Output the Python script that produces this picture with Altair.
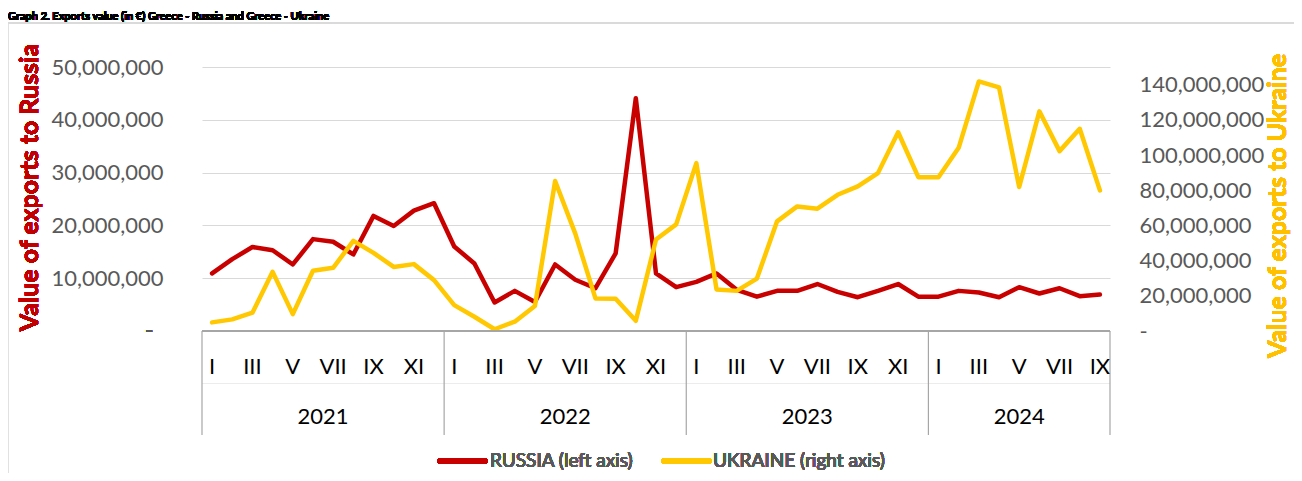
import altair as alt
import pandas as pd

# ---- data (values in EUR millions) ----
years = ["2021", "2022", "2023", "2024"]
roman = ["I", "II", "III", "IV", "V", "VI", "VII", "VIII", "IX", "X", "XI", "XII"]

russia_m = [
    10.9, 13.6, 15.9, 15.3, 12.6, 17.4, 16.9, 14.5, 21.8, 19.9, 22.8, 24.2,
    16.0, 12.8, 5.4, 7.6, 5.5, 12.6, 9.7, 8.1, 14.7, 44.1, 10.9, 8.3,
    9.3, 10.9, 7.8, 6.5, 7.6, 7.6, 8.9, 7.4, 6.4, 7.6, 8.9, 6.5,
    6.5, 7.6, 7.3, 6.4, 8.3, 7.1, 8.1, 6.6, 6.9,
]
ukraine_m = [
    4.9, 6.6, 10.4, 33.6, 9.6, 34.2, 35.9, 51.2, 44.4, 36.4, 38.0, 28.9,
    14.7, 8.1, 1.0, 5.3, 14.2, 85.2, 55.3, 18.5, 18.3, 5.8, 52.0, 60.6,
    95.4, 23.6, 22.8, 29.8, 62.3, 70.8, 69.5, 77.4, 82.2, 89.7, 112.9, 87.4,
    87.4, 104.1, 141.8, 138.4, 81.8, 124.8, 102.2, 114.9, 79.9,
]
left_ticks = [0, 10e6, 20e6, 30e6, 40e6, 50e6]
right_ticks = [0, 20e6, 40e6, 60e6, 80e6, 100e6, 120e6, 140e6]

n = len(russia_m)
df = pd.DataFrame({
    "idx": list(range(n)),
    "month": [roman[i % 12] for i in range(n)],
    "russia": [v * 1e6 for v in russia_m],
    "ukraine": [v * 1e6 for v in ukraine_m],
})
month_df = df[df["idx"] % 2 == 0]
year_df = pd.DataFrame({"pos": [5.5, 17.5, 29.5, 40.0], "year": years})
sep_df = pd.DataFrame({"pos": [-0.5, 11.5, 23.5, 35.5, 44.5]})

W, H = 908, 264
FONT = "Lato"
RED = "#c80000"
YEL = "#ffc800"
GRAY_TXT = "#595959"

xs = alt.Scale(domain=[-0.5, n - 0.5], nice=False, zero=False)
X = alt.X("idx:Q", scale=xs, axis=None)

base = alt.Chart(df)

left_axis = alt.Axis(
    orient="left", values=left_ticks, title=None, grid=True, gridColor="#d9d9d9",
    gridWidth=1.2, domain=False, ticks=False, tickSize=0, labelPadding=39,
    labelFont=FONT, labelFontSize=22, labelColor=GRAY_TXT,
    labelExpr="datum.value == 0 ? '' : format(datum.value, ',')",
)
right_axis = alt.Axis(
    orient="right", values=right_ticks, title=None, grid=False,
    domain=False, ticks=False, tickSize=0, labelPadding=29,
    labelFont=FONT, labelFontSize=22, labelColor=GRAY_TXT,
    labelExpr="datum.value == 0 ? '-' : format(datum.value, ',')",
)

russia_line = base.mark_line(color=RED, strokeWidth=4.5, strokeJoin="round", strokeCap="round").encode(
    x=X,
    y=alt.Y("russia:Q", scale=alt.Scale(domain=[0, 50e6], nice=False), axis=left_axis),
)
ukraine_line = base.mark_line(color=YEL, strokeWidth=4.5, strokeJoin="round", strokeCap="round").encode(
    x=X,
    y=alt.Y("ukraine:Q", scale=alt.Scale(domain=[0, 150e6], nice=False), axis=right_axis),
)

lines = alt.layer(russia_line, ukraine_line).resolve_scale(y="independent")

# the "-" zero label of the left axis (accounting style, set in from the others)
left_zero = base.mark_text(
    text="-", font=FONT, fontSize=22, color=GRAY_TXT, align="center", baseline="middle"
).encode(x=alt.value(-53), y=alt.value(H))

# category axis (two-level)
axis_line = base.mark_rule(color="#a6a6a6", strokeWidth=1.2).encode(
    x=alt.value(0), x2=alt.value(W), y=alt.value(H)
)
mid_line = base.mark_rule(color="#ececec", strokeWidth=1).encode(
    x=alt.value(0), x2=alt.value(W), y=alt.value(316.5)
)
seps = alt.Chart(sep_df).mark_rule(color="#a6a6a6", strokeWidth=1.2).encode(
    x=alt.X("pos:Q", scale=xs, axis=None), y=alt.value(H), y2=alt.value(368)
)
month_text = alt.Chart(month_df).mark_text(
    font=FONT, fontSize=22, color="#000000", baseline="middle", align="center"
).encode(x=alt.X("idx:Q", scale=xs, axis=None), y=alt.value(300), text="month:N")
year_text = alt.Chart(year_df).mark_text(
    font=FONT, fontSize=22, color="#000000", baseline="middle", align="center"
).encode(x=alt.X("pos:Q", scale=xs, axis=None), y=alt.value(350), text="year:N")

# axis titles
left_title = base.mark_text(
    text="Value of exports to Russia", font=FONT, fontSize=25, fontWeight="bold",
    color="#c00000", angle=270, align="center", baseline="middle"
).encode(x=alt.value(-172), y=alt.value(120.5))
right_title = base.mark_text(
    text="Value of exports to Ukraine", font=FONT, fontSize=25, fontWeight="bold",
    color="#ffc000", angle=270, align="center", baseline="middle"
).encode(x=alt.value(1076), y=alt.value(139))

# chart title (kept small so it fits above the chart-area border)
title = base.mark_text(
    text="Graph 2. Exports value (in €) Greece - Russia and Greece - Ukraine",
    font=FONT, fontSize=11, fontWeight="bold", color="#000000",
    align="left", baseline="alphabetic"
).encode(x=alt.value(-194), y=alt.value(-47.5))
border_top = base.mark_rule(color="#d9d9d9", strokeWidth=1.2).encode(
    x=alt.value(-195), x2=alt.value(1100), y=alt.value(-44)
)
border_left = base.mark_rule(color="#d9d9d9", strokeWidth=1.2).encode(
    x=alt.value(-194.5), y=alt.value(-44), y2=alt.value(420)
)

# legend
LY = 394
leg_r = base.mark_rule(color=RED, strokeWidth=5, strokeCap="round").encode(
    x=alt.value(238), x2=alt.value(283), y=alt.value(LY)
)
leg_y = base.mark_rule(color=YEL, strokeWidth=5, strokeCap="round").encode(
    x=alt.value(462), x2=alt.value(507), y=alt.value(LY)
)
leg_rt = base.mark_text(
    text="RUSSIA (left axis)", font=FONT, fontSize=19, color=GRAY_TXT,
    align="left", baseline="middle"
).encode(x=alt.value(288), y=alt.value(LY))
leg_yt = base.mark_text(
    text="UKRAINE (right axis)", font=FONT, fontSize=19, color=GRAY_TXT,
    align="left", baseline="middle"
).encode(x=alt.value(511), y=alt.value(LY))

chart = alt.layer(
    border_top, border_left, title,
    lines, left_zero,
    mid_line, axis_line, seps, month_text, year_text,
    left_title, right_title,
    leg_r, leg_y, leg_rt, leg_yt,
).properties(
    width=W, height=H,
    autosize=alt.AutoSizeParams(type="none"),
    padding={"left": 194, "top": 59, "right": 184, "bottom": 142},
).configure_view(stroke=None)

chart.save("out.html", embed_options={"renderer": "svg", "actions": False})
